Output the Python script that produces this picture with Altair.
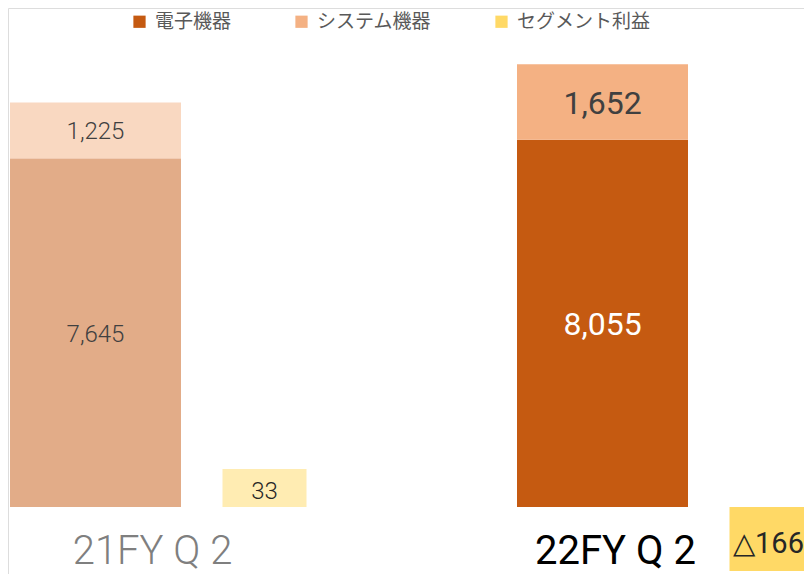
import math
import altair as alt
import pandas as pd

# ---- data ----
periods = ["21FY Q 2", "22FY Q 2"]
series = ["電子機器", "システム機器", "セグメント利益"]
colors = ["#C55A11", "#F4B183", "#FFD966"]
denshi = [7645, 8055]        # 電子機器
system = [1225, 1652]        # システム機器
profit = [33, -166]          # セグメント利益
period_opacity = [0.5, 1.0]

# x slots: stack bar + profit bar for each period, empty slot between
slots = ["21_stack", "21_profit", "gap", "22_stack", "22_profit"]
stack_slot = ["21_stack", "22_stack"]
profit_slot = ["21_profit", "22_profit"]

# ---- build tables ----
rows = []
for i, p in enumerate(periods):
    start = 0
    for s, v in ((series[0], denshi[i]), (series[1], system[i])):
        rows.append(dict(period=p, slot=stack_slot[i], series=s, value=v,
                         start=start, end=start + v, mid=start + v / 2,
                         label=f"{v:,}", op=period_opacity[i]))
        start += v
stack_df = pd.DataFrame(rows)
stack_df["tcolor"] = ["#404040", "#404040", "#FFFFFF", "#404040"]

SYMC = 4.0
def symlog_mid(v):
    f = math.log1p(abs(v) / SYMC) / 2
    return math.copysign(SYMC * math.expm1(f), v)

profit_df = pd.DataFrame(dict(
    period=periods, slot=profit_slot, series=series[2], value=profit,
    zero=[0, 0], mid=[symlog_mid(v) for v in profit],
    label=[f"{v:,}" if v >= 0 else f"△{-v:,}" for v in profit],
    op=period_opacity))

cat_df = pd.DataFrame(dict(slot=stack_slot, label=periods, zero=[0, 0]))

W, H = 796, 566
xscale = alt.Scale(domain=slots, range=[3, 848], paddingInner=0, paddingOuter=0)
yscale = alt.Scale(domain=[-1470, 10943], nice=False, zero=False)
pscale = alt.Scale(type="symlog", constant=SYMC, domain=[-166, 33], range=[563, 461], nice=False, zero=False)
cscale = alt.Scale(domain=series, range=colors)

X = alt.X("slot:N", scale=xscale, axis=None, sort=slots)
legend = alt.Legend(title=None, orient="none", legendX=122, legendY=4, direction="horizontal",
                    symbolType="square", symbolSize=150, symbolStrokeWidth=0, symbolOpacity=1,
                    labelFont="Noto Sans CJK JP", labelFontSize=19, labelColor="#595959",
                    columnPadding=60, labelOffset=6, padding=0, labelLimit=300)

base = alt.Chart(stack_df)
bars = base.mark_bar(size=171).encode(
    x=X,
    y=alt.Y("start:Q", scale=yscale, axis=None),
    y2="end:Q",
    color=alt.Color("series:N", scale=cscale, legend=legend, sort=series),
    opacity=alt.Opacity("op:Q", scale=None),
)
txt21 = base.transform_filter(alt.datum.period == periods[0]).mark_text(
    font="Roboto", fontWeight=300, fontSize=24, baseline="middle", dy=2).encode(
    x=X, y=alt.Y("mid:Q", scale=yscale, axis=None), text="label:N",
    color=alt.Color("tcolor:N", scale=None))
txt22 = base.transform_filter(alt.datum.period == periods[1]).mark_text(
    font="Roboto", fontWeight=400, fontSize=32, baseline="middle", dy=2).encode(
    x=X, y=alt.Y("mid:Q", scale=yscale, axis=None), text="label:N",
    color=alt.Color("tcolor:N", scale=None))

cbase = alt.Chart(cat_df)
cat21 = cbase.transform_filter(alt.datum.label == periods[0]).mark_text(
    font="Roboto", fontWeight=300, fontSize=40, color="#7F7F7F", baseline="alphabetic",
    dx=57, dy=57).encode(x=X, y=alt.Y("zero:Q", scale=yscale, axis=None), text="label:N")
cat22 = cbase.transform_filter(alt.datum.label == periods[1]).mark_text(
    font="Roboto", fontWeight=400, fontSize=40, color="#000000", baseline="alphabetic",
    dx=13, dy=57).encode(x=X, y=alt.Y("zero:Q", scale=yscale, axis=None), text="label:N")

main_layer = alt.layer(bars, txt21, txt22, cat21, cat22)

pbase = alt.Chart(profit_df)
pbars = pbase.mark_bar(size=84).encode(
    x=X,
    y=alt.Y("value:Q", scale=pscale, axis=None),
    y2="zero:Q",
    color=alt.Color("series:N", scale=cscale, legend=legend, sort=series),
    opacity=alt.Opacity("op:Q", scale=None),
)
ptxt21 = pbase.transform_filter(alt.datum.period == periods[0]).mark_text(
    font="Roboto", fontWeight=300, fontSize=24, color="#262626", baseline="middle", dy=4).encode(
    x=X, y=alt.Y("mid:Q", scale=pscale, axis=None), text="label:N")
ptxt22 = pbase.transform_filter(alt.datum.period == periods[1]).mark_text(
    font="Roboto", fontWeight=400, fontSize=29, color="#262626", baseline="middle", dy=5, dx=-3).encode(
    x=X, y=alt.Y("mid:Q", scale=pscale, axis=None), text="label:N")

profit_layer = alt.layer(pbars, ptxt21, ptxt22)

chart = alt.layer(main_layer, profit_layer).resolve_scale(y="independent").properties(
    width=W, height=H, autosize=alt.AutoSizeParams(type="none"), padding=0,
).configure_view(strokeWidth=0, stroke="transparent").configure(background="white")

chart.save("out.html", embed_options={"renderer": "svg", "actions": False})
